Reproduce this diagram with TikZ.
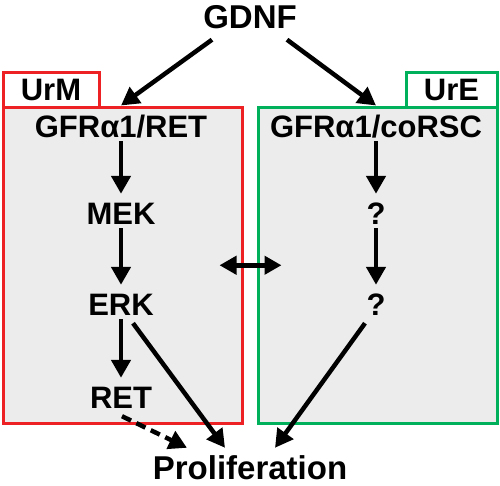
\documentclass[tikz,border=0pt]{standalone}
\usepackage{fontspec}
\setmainfont{Liberation Sans}
\usetikzlibrary{arrows.meta,positioning}
\definecolor{urmred}{RGB}{237,32,36}
\definecolor{uregreen}{RGB}{0,176,90}
\definecolor{boxgray}{RGB}{236,236,236}

\begin{document}
\begin{tikzpicture}[
    x=1pt, y=-1pt,
    font=\bfseries\fontsize{31}{36}\selectfont,
    lbl/.style={inner sep=4pt, text height=22pt, text depth=0pt},
    region/.style={rectangle, draw=#1, line width=3pt, fill=boxgray, minimum width=239pt, minimum height=316.5pt, inner sep=0pt},
    tab/.style={rectangle, draw=#1, line width=3pt, fill=white, minimum height=35pt, inner sep=0pt, text height=22pt, text depth=0pt},
    arr/.style={line width=4.5pt, -{Triangle[length=18pt,width=19pt]}},
    dasharr/.style={arr, dash pattern=on 10pt off 6pt}
]
    \useasboundingbox (0,0) rectangle (500,485);

    % Tabs (UrM left, UrE right)
    \node[tab=urmred, minimum width=96pt] (urmtab) at (51,89.5) {UrM};
    \node[tab=uregreen, minimum width=91pt] (uretab) at (451.5,89.5) {UrE};

    % Regions
    \node[region=urmred] (urmbox) at (122.5,265.25) {};
    \node[region=uregreen] (urebox) at (377.5,265.25) {};

    % Ligand
    \node[lbl, font=\bfseries\fontsize{33}{38}\selectfont] (gdnf) at (250,17.5) {GDNF};

    % UrM pathway
    \node[lbl] (gfrret) at (121,126) {GFRα1/RET};
    \node[lbl] (mek) at (121,213) {MEK};
    \node[lbl] (erk) at (121,304) {ERK};
    \node[lbl] (ret) at (121,397) {RET};

    % UrE pathway
    \node[lbl] (gfrcorsc) at (376,126) {GFRα1/coRSC};
    \node[lbl] (qa) at (376,213) {?};
    \node[lbl] (qb) at (376,304) {?};

    % Output
    \node[lbl, inner sep=1pt, text height=24pt, font=\bfseries\fontsize{33}{38}\selectfont] (prolif) at (250,467) {Proliferation};

    % Arrows from GDNF
    \draw[arr] ([xshift=-38pt,yshift=-7pt]gdnf.south) -- (urmbox.north -| gfrret);
    \draw[arr] ([xshift=37pt,yshift=-7pt]gdnf.south) -- (urebox.north -| gfrcorsc);

    % Cascades
    \draw[arr, shorten >=4pt] (gfrret) -- (mek);
    \draw[arr, shorten >=4pt] (mek) -- (erk);
    \draw[arr, shorten >=4pt] (erk) -- (ret);
    \draw[arr, shorten >=4pt] (gfrcorsc) -- (qa);
    \draw[arr, shorten >=4pt] (qa) -- (qb);

    % Cross talk
    \draw[line width=4.5pt, {Triangle[length=17pt,width=18pt]}-{Triangle[length=17pt,width=18pt]}]
        ([xshift=-24pt]urmbox.east) -- ([xshift=25pt]urebox.west);

    % Into proliferation
    \draw[arr] ([xshift=12pt,yshift=-4pt]erk.south) -- ([xshift=-25pt,yshift=6pt]prolif.north);
    \draw[dasharr] ([xshift=1pt,yshift=-4pt]ret.south) -- ([xshift=-63pt,yshift=6pt]prolif.north);
    \draw[arr] ([xshift=-11pt,yshift=-4pt]qb.south) -- ([xshift=25pt,yshift=6pt]prolif.north);

\end{tikzpicture}
\end{document}
